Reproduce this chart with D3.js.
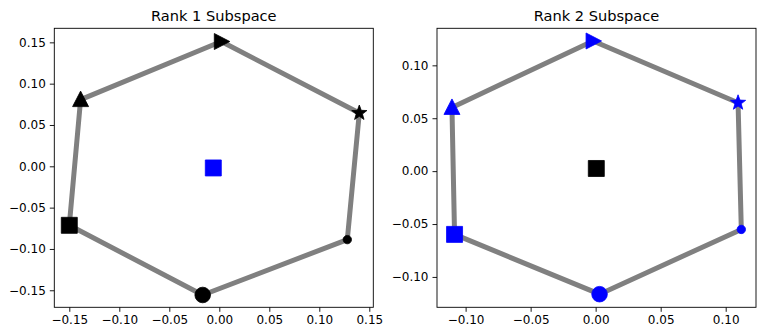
<!DOCTYPE html>
<html lang="en">
<head>
  <meta charset="UTF-8">
  <title>Rank Subspaces</title>
  <script src="https://d3js.org/d3.v7.min.js"></script>
  <style>
    body { margin: 0; background: #fff; }
    text { font-family: "DejaVu Sans", sans-serif; }
  </style>
</head>
<body>
  <script>
    // hexagon order: triangle-up, triangle-right, star, small circle, circle, square
    const shapes = ["tri-up", "tri-right", "star", "dot", "circle", "square"];

    const rank1X = [-0.1387, 0.002, 0.140, 0.128, -0.0166, -0.150];
    const rank1Y = [0.0807, 0.151, 0.0645, -0.0887, -0.1557, -0.0714];
    const rank1Center = [-0.006, -0.002];

    const rank2X = [-0.1105, -0.002, 0.1095, 0.112, 0.003, -0.1085];
    const rank2Y = [0.0602, 0.123, 0.0646, -0.0551, -0.1163, -0.0598];
    const rank2Center = [0.0005, 0.0025];

    const ticks1 = [-0.15, -0.10, -0.05, 0.00, 0.05, 0.10, 0.15];
    const ticks2 = [-0.10, -0.05, 0.00, 0.05, 0.10];

    const panels = [
      { title: "Rank 1 Subspace", xs: rank1X, ys: rank1Y, center: rank1Center,
        ringColor: "#000", centerColor: "#0000ff",
        xDom: [-0.165, 0.154], yDom: [-0.1706, 0.167], xt: ticks1, yt: ticks1,
        left: 54.3, right: 373.3 },
      { title: "Rank 2 Subspace", xs: rank2X, ys: rank2Y, center: rank2Center,
        ringColor: "#0000ff", centerColor: "#000",
        xDom: [-0.122, 0.1233], yDom: [-0.1287, 0.135], xt: ticks2, yt: ticks2,
        left: 437, right: 756 }
    ];

    const plotTop = 28.3, plotBottom = 307.3;

    const svg = d3.select("body").append("svg")
      .attr("width", 758).attr("height", 332);

    const fmt = v => d3.format(".2f")(v).replace("-", "\u2212");

    function markerPath(kind) {
      const p = d3.path();
      if (kind === "tri-up") {
        p.moveTo(0, -8.5); p.lineTo(8, 7); p.lineTo(-8, 7); p.closePath();
      } else if (kind === "tri-right") {
        p.moveTo(8.5, 0); p.lineTo(-7, 8); p.lineTo(-7, -8); p.closePath();
      } else if (kind === "square") {
        p.rect(-8, -8, 16, 16);
      } else if (kind === "circle") {
        p.arc(0, 0, 7.8, 0, 2 * Math.PI);
      } else if (kind === "dot") {
        p.arc(0, 0, 4.2, 0, 2 * Math.PI);
      } else if (kind === "star") {
        const R = 8, r = 3.3;
        for (let i = 0; i < 10; i++) {
          const a = -Math.PI / 2 + i * Math.PI / 5;
          const rr = i % 2 === 0 ? R : r;
          if (i === 0) p.moveTo(rr * Math.cos(a), rr * Math.sin(a));
          else p.lineTo(rr * Math.cos(a), rr * Math.sin(a));
        }
        p.closePath();
      }
      return p.toString();
    }

    panels.forEach(pn => {
      const x = d3.scaleLinear().domain(pn.xDom).range([pn.left, pn.right]);
      const y = d3.scaleLinear().domain(pn.yDom).range([plotBottom, plotTop]);
      const g = svg.append("g");

      // x axis
      const xa = g.append("g").attr("transform", `translate(0,${plotBottom})`)
        .call(d3.axisBottom(x).tickValues(pn.xt).tickFormat(fmt).tickSize(4.5).tickPadding(4));
      xa.select(".domain").remove();
      xa.selectAll("line").attr("stroke", "#000").attr("stroke-width", 0.9);
      xa.selectAll("text").attr("font-size", 12).attr("fill", "#000")
        .attr("font-family", "DejaVu Sans");

      // y axis
      const ya = g.append("g").attr("transform", `translate(${pn.left},0)`)
        .call(d3.axisLeft(y).tickValues(pn.yt).tickFormat(fmt).tickSize(4.5).tickPadding(4));
      ya.select(".domain").remove();
      ya.selectAll("line").attr("stroke", "#000").attr("stroke-width", 0.9);
      ya.selectAll("text").attr("font-size", 12).attr("fill", "#000")
        .attr("font-family", "DejaVu Sans");

      // ring of points
      const pts = pn.xs.map((v, i) => [x(v), y(pn.ys[i])]);
      g.append("path")
        .attr("d", d3.line()(pts.concat([pts[0]])))
        .attr("fill", "none")
        .attr("stroke", "#808080")
        .attr("stroke-width", 5)
        .attr("stroke-linejoin", "round");

      g.selectAll("path.mk").data(shapes).enter().append("path")
        .attr("class", "mk")
        .attr("transform", (d, i) => `translate(${pts[i][0]},${pts[i][1]})`)
        .attr("d", d => markerPath(d))
        .attr("fill", pn.ringColor)
        .attr("stroke", pn.ringColor)
        .attr("stroke-width", 0.8);

      g.append("path")
        .attr("transform", `translate(${x(pn.center[0])},${y(pn.center[1])})`)
        .attr("d", markerPath("square"))
        .attr("fill", pn.centerColor)
        .attr("stroke", pn.centerColor)
        .attr("stroke-width", 0.8);

      // frame
      g.append("rect")
        .attr("x", pn.left).attr("y", plotTop)
        .attr("width", pn.right - pn.left).attr("height", plotBottom - plotTop)
        .attr("fill", "none").attr("stroke", "#000").attr("stroke-width", 0.9);

      g.append("text")
        .attr("x", (pn.left + pn.right) / 2).attr("y", 20.5)
        .attr("text-anchor", "middle")
        .attr("font-size", 14.6)
        .attr("fill", "#000")
        .text(pn.title);
    });
  </script>
</body>
</html>
